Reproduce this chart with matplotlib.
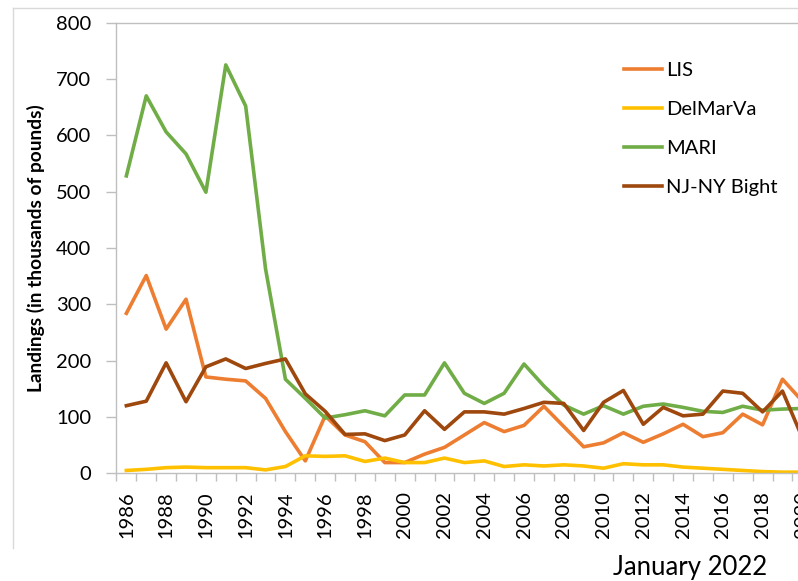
import matplotlib
matplotlib.use('Agg')
import matplotlib.pyplot as plt
from matplotlib.lines import Line2D
from matplotlib.ticker import MultipleLocator

plt.rcParams['font.family'] = ['Lato', 'DejaVu Sans']

years = list(range(1986, 2021))
lis = [284, 351, 256, 309, 171, 167, 164, 133, 74, 22, 102, 68, 56, 19, 19, 34, 46,
       68, 90, 74, 85, 119, 83, 47, 54, 72, 55, 70, 87, 65, 72, 105, 86, 167, 128]
delmarva = [5, 7, 10, 11, 10, 10, 10, 6, 12, 31, 30, 31, 21, 27, 19, 19, 27,
            19, 22, 12, 15, 13, 15, 13, 9, 17, 15, 15, 11, 9, 7, 5, 3, 2, 2]
mari = [528, 670, 606, 567, 499, 725, 652, 363, 167, 133, 98, 104, 111, 102, 139, 139, 196,
        142, 124, 142, 194, 155, 121, 105, 120, 105, 119, 123, 117, 110, 108, 119, 112, 114, 115]
njny = [120, 128, 196, 127, 189, 203, 186, 195, 203, 141, 110, 69, 70, 58, 68, 111, 78,
        109, 109, 105, 115, 126, 124, 76, 126, 147, 87, 117, 102, 105, 146, 142, 109, 146, 63]

series = [('LIS', lis, '#ED7D31'),
          ('DelMarVa', delmarva, '#FFC000'),
          ('MARI', mari, '#70AD47'),
          ('NJ-NY Bight', njny, '#9E480E')]

axis_grey = '#BFBFBF'

fig = plt.figure(figsize=(7.98, 5.81), dpi=100)
ax = fig.add_axes([0.1459, 0.1854, 0.872, 0.7756])

for name, vals, col in series:
    ax.plot(years, vals, color=col, lw=2.6, label=name, solid_joinstyle='round')

ax.set_xlim(years[0] - 0.5, years[-1] + 0.5)
ax.set_ylim(0, 800)
ax.yaxis.set_major_locator(MultipleLocator(100))

# year labels every other year, tick marks between categories
ax.set_xticks(years[::2])
ax.set_xticklabels([str(y) for y in years[::2]], rotation=90)
ax.set_xticks([y - 0.5 for y in years] + [years[-1] + 0.5], minor=True)
ax.tick_params(axis='x', which='major', length=0, pad=13, labelsize=14.5)
ax.tick_params(axis='x', which='minor', length=6, width=1, color=axis_grey)
ax.tick_params(axis='y', length=7, width=1, color=axis_grey, pad=11, labelsize=14.5)

for side in ['left', 'bottom', 'top']:
    ax.spines[side].set_color(axis_grey)
    ax.spines[side].set_linewidth(1)
ax.spines['right'].set_visible(False)

fig.text(36 / 798, 1 - 248 / 581, 'Landings (in thousands of pounds)', rotation=90,
         ha='center', va='center', fontsize=13.8, fontweight='bold')

fig.legend(loc='upper left', bbox_to_anchor=(606 / 798, 1 - 44 / 581), frameon=False,
           fontsize=14.5, handlelength=1.9, handletextpad=0.2, labelspacing=1.08)

fig.text(690 / 798, 1 - 567 / 581, 'January 2022', ha='center', va='center', fontsize=18.5)

# chart area border (top and left edges)
fig.add_artist(Line2D([13 / 798, 13 / 798], [1 - 8 / 581, 1 - 548 / 581],
                      transform=fig.transFigure, color='#D9D9D9', lw=1))
fig.add_artist(Line2D([13 / 798, 1.0], [1 - 8 / 581, 1 - 8 / 581],
                      transform=fig.transFigure, color='#D9D9D9', lw=1))

fig.savefig('out.png', dpi=100)
plt.close(fig)
